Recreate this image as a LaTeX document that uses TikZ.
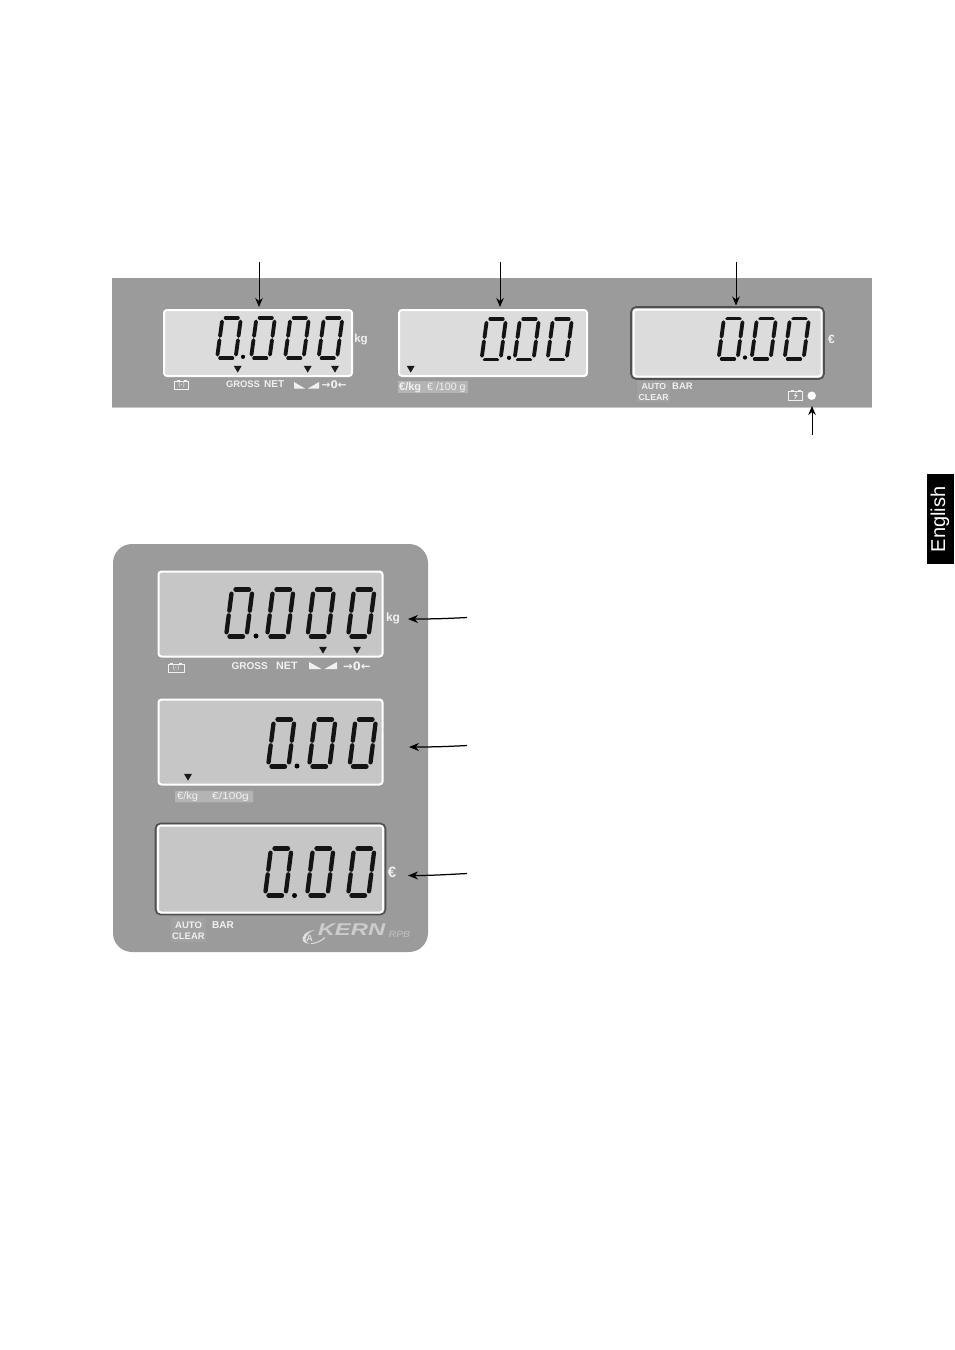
\documentclass[tikz,border=0pt]{standalone}
\usepackage{fontspec}
\setmainfont{Liberation Sans}
\newfontfamily\dejavu{DejaVu Sans}
\usetikzlibrary{arrows.meta}
\definecolor{band}{HTML}{9B9B9B}
\definecolor{lcdA}{HTML}{DCDCDC}
\definecolor{lcdB}{HTML}{C6C6C6}
\definecolor{frameD}{HTML}{505050}
\definecolor{chip}{HTML}{B4B4B4}
\definecolor{chipB}{HTML}{A1A1A1}
\definecolor{ink}{HTML}{F0F0F0}
\tikzset{
  lcdwin/.style={draw=white,line width=2pt,rounded corners=3pt},
  lcdframe/.style={draw=frameD,line width=1.6pt,rounded corners=5pt},
  seg/.style={line width=#1,line cap=round,black!92},
  call/.style={-{Stealth[length=9pt,width=7.5pt]},line width=1pt,black},
  calllow/.style={-{Stealth[length=10pt,width=8pt]},line width=1.25pt,black},
  lab/.style={text=ink,inner sep=0pt,font=\bfseries\fontsize{#1}{#1}\selectfont},
  lablight/.style={text=ink,inner sep=0pt,font=\fontsize{#1}{#1}\selectfont},
}
% x0 (bottom-left centre), y bottom, width, height, slant, line width
\newcommand\zerodigit[6]{%
  \begin{scope}[shift={(#1,#2)},x={(#3pt,0pt)},y={(#5pt,#4pt)}]
    \draw[seg=#6] (.17,0)--(.83,0);
    \draw[seg=#6] (.17,1)--(.83,1);
    \draw[seg=#6] (0,.09)--(0,.45);
    \draw[seg=#6] (0,.55)--(0,.91);
    \draw[seg=#6] (1,.09)--(1,.45);
    \draw[seg=#6] (1,.55)--(1,.91);
  \end{scope}}
\newcommand\tri[2]{\fill[black!90] (#1-4,#2-3.2)--(#1+4,#2-3.2)--(#1,#2+3.6)--cycle;}
\newcommand\tare[4]{% x, ytop, width, height
  \fill[ink] (#1,#2)--(#1+#3,#2+#4)--(#1,#2+#4)--cycle;
  \fill[ink] (#1+#3+3,#2+#4)--(#1+#3+3+#3,#2)--(#1+#3+3+#3,#2+#4)--cycle;}
\newcommand\batt[4]{% x, y, w, h
  \draw[ink,line width=.6pt] (#1,#2) rectangle (#1+#3,#2+#4);
  \draw[ink,line width=.8pt] (#1+2,#2-.7)--(#1+5,#2-.7) (#1+#3-5,#2-.7)--(#1+#3-2,#2-.7);}
\begin{document}
\begin{tikzpicture}[x=1pt,y=-1pt]
\useasboundingbox (0,0) rectangle (954,1350);
\fill[white] (0,0) rectangle (954,1350);

% upper band
\fill[band] (112,278) rectangle (872,407);
\fill[black!22] (112,407) rectangle (872,408);
\node[fill=lcdA,lcdwin,minimum width=188pt,minimum height=66pt,inner sep=0pt] (w1) at (258,343) {};
\node[fill=lcdA,lcdwin,minimum width=188pt,minimum height=66pt,inner sep=0pt] (w2) at (493,343) {};
\node[lcdframe,minimum width=193pt,minimum height=72pt,inner sep=0pt] (w3f) at (727.5,343) {};
\node[fill=lcdA,lcdwin,minimum width=188pt,minimum height=67pt,inner sep=0pt] (w3) at (727.5,343) {};

\foreach \xx in {217,251,285,318.5} {\zerodigit{\xx}{358.3}{18.5}{40.5}{5.5}{3.8pt}}
\fill[black] (243,356.8) circle (2.1);
\foreach \xx in {481.5,514.5,547.5} {\zerodigit{\xx}{359.5}{19}{40.5}{5.5}{3.8pt}}
\fill[black] (509,357.8) circle (2.1);
\foreach \xx in {718.5,751.5,784.5} {\zerodigit{\xx}{359}{19}{40.5}{5.5}{3.8pt}}
\fill[black] (745,357.5) circle (2.1);

\tri{237.7}{369}\tri{307.7}{369}\tri{335}{369}\tri{410.7}{369}

\batt{174.5}{381.5}{14}{8}
\node[text=ink,inner sep=0pt,font=\fontsize{6.5}{6.5}\selectfont] (b1t) at (181.5,385.3) {(-)};
\node[lab=9.4,anchor=west] (gross1) at (225.8,384.5) {GROSS};
\node[lab=10,anchor=west] (net1) at (264,384.5) {NET};
\tare{294}{382}{11}{6.5}
\node[text=ink,inner sep=0pt,anchor=west,font=\dejavu\bfseries\fontsize{10.5}{10.5}\selectfont] (zero1) at (321.5,384.5) {→0←};
\node[lab=11.5] (kg1) at (361,340) {kg};

\node[fill=chip,minimum width=70pt,minimum height=12pt,inner sep=0pt] (chip2) at (433,387) {};
\node[lab=11,anchor=west] (ek1) at (399,387.5) {€/kg};
\node[lablight=10.6,anchor=west] (ek2) at (427,387.3) {€ /100 g};

\node[fill=chipB,minimum width=33pt,minimum height=21pt,inner sep=0pt] (chip3) at (653.5,391.5) {};
\node[lab=8.7,anchor=west] (auto1) at (641.5,386) {AUTO};
\node[lab=9.5,anchor=west] (bar1) at (672,386) {BAR};
\node[lab=8.7,anchor=west] (clear1) at (638.5,397.5) {CLEAR};
\node[lab=12] (eu1) at (831.5,339.5) {€};
\batt{788.5}{391}{14}{9}
\draw[ink,line width=.7pt] (796.5,392.5)--(794.3,395.8)--(797,395.4)--(794.8,398.8);
\node[circle,fill=white,minimum size=8.4pt,inner sep=0pt] (led) at (811.7,395.7) {};

% lower panel
\fill[band,rounded corners=19pt] (113,544) rectangle (428,952);
\node[fill=lcdB,lcdwin,minimum width=224pt,minimum height=85pt,inner sep=0pt] (p1) at (270.5,614) {};
\node[fill=lcdB,lcdwin,minimum width=224pt,minimum height=85pt,inner sep=0pt] (p2) at (270.5,742) {};
\node[lcdframe,minimum width=230pt,minimum height=91pt,inner sep=0pt] (p3f) at (270.5,869) {};
\node[fill=lcdB,lcdwin,minimum width=225pt,minimum height=87pt,inner sep=0pt] (p3) at (270.5,869) {};

\foreach \xx in {226,267,307.5,348} {\zerodigit{\xx}{636.5}{20.5}{47}{6}{4.3pt}}
\fill[black] (256,636) circle (2.5);
\foreach \xx in {268,309,349.5} {\zerodigit{\xx}{766.5}{20.5}{47}{6}{4.3pt}}
\fill[black] (297,766) circle (2.5);
\foreach \xx in {265,307,348} {\zerodigit{\xx}{895.5}{20.5}{47}{6}{4.3pt}}
\fill[black] (294.5,895.5) circle (2.5);

\tri{323}{650}\tri{357}{650}\tri{188}{777}

\batt{168}{664}{16}{8.5}
\node[text=ink,inner sep=0pt,font=\fontsize{6.5}{6.5}\selectfont] (b2t) at (176,668) {(-)};
\node[lab=10,anchor=west] (gross2) at (231.5,666) {GROSS};
\node[lab=10.7,anchor=west] (net2) at (276,666) {NET};
\tare{309}{662}{12.5}{7}
\node[font=\dejavu\bfseries\fontsize{11.5}{11.5}\selectfont,text=ink,inner sep=0pt,anchor=west] (zero2) at (343,666) {→0←};
\node[lab=12] (kg2) at (393,618) {kg};

\node[fill=chip,rounded corners=1pt,minimum width=78pt,minimum height=11.5pt,inner sep=0pt] (chip5) at (214,796.5) {};
\node[lablight=10.5,anchor=west] (ek3) at (177,797) {\scalebox{1.05}[1]{€/kg}};
\node[lablight=10,anchor=west] (ek4) at (212,797) {\scalebox{1.2}[1]{€/100g}};

\node[fill=chipB,rounded corners=1pt,minimum width=35pt,minimum height=24pt,inner sep=0pt] (chip6) at (188.5,930) {};
\node[lab=9.5,anchor=west] (auto2) at (175,925) {AUTO};
\node[lab=10,anchor=west] (bar2) at (212,925) {BAR};
\node[lab=9.4,anchor=west] (clear2) at (172,936.5) {CLEAR};
\node[lab=15] (eu2) at (392,872.5) {€};

% logo
\node[text=black!20,inner sep=0pt,font=\bfseries\itshape\fontsize{17}{17}\selectfont] (kern) at (351.5,930) {\scalebox{1.4}[1]{KERN}};
\node[text=black!24,inner sep=0pt,font=\itshape\fontsize{9}{9}\selectfont] (rpb) at (399.5,934) {\scalebox{1.15}[1]{RPB}};
\fill[black!12] (315,930) .. controls (305,931) and (301,937) .. (303,941) .. controls (304,943) and (307,944) .. (310,943.5) .. controls (306,943) and (304.5,940) .. (306,937) .. controls (308,933) and (311,931) .. (315,930) -- cycle;
\draw[black!12,line width=1pt] (311,943.5) .. controls (316,943.5) and (321,941) .. (325,937.5);
\node[text=black!12,inner sep=0pt,font=\bfseries\fontsize{9}{9}\selectfont] (alogo) at (309.5,938) {A};

% language tab
\fill[black] (927,474) rectangle (954,564);
\node[rotate=90,text=white,inner sep=0pt,font=\fontsize{20}{20}\selectfont] (lang) at (940,519.5) {English};

% connectors
\coordinate (c1) at (259,262);
\coordinate (c1e) at (259,307);
\coordinate (c2) at (500,262);
\coordinate (c2e) at (500,307);
\coordinate (c3) at (736,262);
\coordinate (c3e) at (736,305.5);
\coordinate (c4) at (812,435);
\coordinate (c4e) at (812,406);
\coordinate (c5) at (467,617.5);
\coordinate (c5e) at (408,619);
\coordinate (c6) at (467,745.5);
\coordinate (c6e) at (409,747);
\coordinate (c7) at (467,873.5);
\coordinate (c7e) at (408,875.5);
\draw[call] (c1)--(c1e);
\draw[call] (c2)--(c2e);
\draw[call] (c3)--(c3e);
\draw[call] (c4)--(c4e);
\draw[calllow] (c5) to[out=183,in=0] (c5e);
\draw[calllow] (c6) to[out=183,in=0] (c6e);
\draw[calllow] (c7) to[out=183,in=0] (c7e);
\end{tikzpicture}
\end{document}
